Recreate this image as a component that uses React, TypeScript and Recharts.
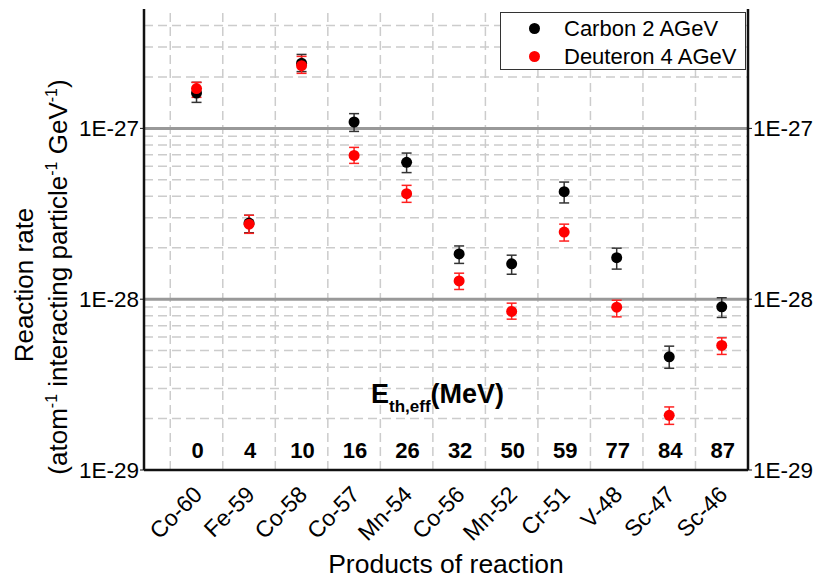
import React from "react";
import {
  ComposedChart,
  Scatter,
  XAxis,
  YAxis,
  ErrorBar,
  ReferenceLine,
  Legend,
} from "recharts";

const categories = ["Co-60", "Fe-59", "Co-58", "Co-57", "Mn-54", "Co-56", "Mn-52", "Cr-51", "V-48", "Sc-47", "Sc-46"];
const energies = [0, 4, 10, 16, 26, 32, 50, 59, 77, 84, 87];

const carbon = [1.61e-27, 2.79e-28, 2.41e-27, 1.09e-27, 6.33e-28, 1.84e-28, 1.61e-28, 4.26e-28, 1.75e-28, 4.6e-29, 9.02e-29];
const carbonLow = [1.42e-27, 2.45e-28, 2.15e-27, 9.6e-28, 5.51e-28, 1.62e-28, 1.4e-28, 3.66e-28, 1.5e-28, 3.94e-29, 7.82e-29];
const carbonHigh = [1.86e-27, 3.1e-28, 2.71e-27, 1.22e-27, 7.17e-28, 2.05e-28, 1.81e-28, 4.85e-28, 1.99e-28, 5.31e-29, 1.02e-28];

const deuteron = [1.71e-27, 2.75e-28, 2.33e-27, 6.95e-28, 4.15e-28, 1.28e-28, 8.48e-29, 2.47e-28, 8.98e-29, 2.09e-29, 5.36e-29];
const deuteronLow = [1.52e-27, 2.43e-28, 2.1e-27, 6.24e-28, 3.69e-28, 1.14e-28, 7.64e-29, 2.19e-28, 7.88e-29, 1.85e-29, 4.75e-29];
const deuteronHigh = [1.86e-27, 3.1e-28, 2.64e-27, 7.74e-28, 4.64e-28, 1.42e-28, 9.48e-29, 2.75e-28, 9.86e-29, 2.34e-29, 5.94e-29];

const decadeTicks = [1e-29, 1e-28, 1e-27];
const minorSteps = [2, 3, 4, 5, 6, 7, 8, 9];
const Y_MIN = 1e-29;
const Y_MAX = 5e-27;

const FONT = "'Liberation Sans', Arial, sans-serif";

const toRows = (vals: number[], lo: number[], hi: number[]) =>
  vals.map((v, i) => ({ x: i + 1, y: v, err: [v - lo[i], hi[i] - v] }));

const carbonRows = toRows(carbon, carbonLow, carbonHigh);
const deuteronRows = toRows(deuteron, deuteronLow, deuteronHigh);

const series = [
  { name: "Carbon 2 AGeV", color: "#000000" },
  { name: "Deuteron 4 AGeV", color: "#ff0000" },
];

const minorLines = decadeTicks
  .flatMap((d) => minorSteps.map((m) => m * d))
  .filter((v) => v < Y_MAX);
const cellEdges = categories.map((_, i) => i + 0.5);

const fmtExp = (v: number) => `1E${Math.round(Math.log10(v))}`;

function ProductTick({ x, y, payload }: any) {
  const i = payload.value - 1;
  if (i < 0 || i >= categories.length) return null;
  return (
    <g>
      <text x={x + 1} y={y - 12} textAnchor="middle" fontSize={22} fontWeight="bold" fill="#000">
        {energies[i]}
      </text>
      <text
        transform={`translate(${x + 7},${y + 26}) rotate(-45)`}
        textAnchor="end"
        fontSize={23}
        fill="#000"
      >
        {categories[i]}
      </text>
    </g>
  );
}

function YTitle() {
  return (
    <g fill="#000">
      <text transform="translate(33,285) rotate(-90)" textAnchor="middle" fontSize={26}>
        Reaction rate
      </text>
      <text transform="translate(67,277) rotate(-90)" textAnchor="middle" fontSize={26}>
        (atom
        <tspan dy={-10} fontSize={16}>-1</tspan>
        <tspan dy={10}> interacting particle</tspan>
        <tspan dy={-10} fontSize={16}>-1</tspan>
        <tspan dy={10}> GeV</tspan>
        <tspan dy={-10} fontSize={16}>-1</tspan>
        <tspan dy={10}>)</tspan>
      </text>
    </g>
  );
}

function LegendBox() {
  return (
    <div
      style={{
        position: "relative",
        width: 246,
        height: 58,
        boxSizing: "border-box",
        border: "1.5px solid #333",
        background: "#fff",
        fontFamily: FONT,
        fontSize: 22,
        color: "#000",
      }}
    >
      {series.map((s, i) => (
        <div key={s.name} style={{ position: "absolute", left: 0, top: 2 + i * 28, height: 28, width: "100%" }}>
          <span
            style={{
              position: "absolute",
              left: 28,
              top: 8,
              width: 11,
              height: 11,
              borderRadius: "50%",
              background: s.color,
            }}
          />
          <span style={{ position: "absolute", left: 63, top: 0, lineHeight: "28px", whiteSpace: "nowrap" }}>
            {s.name}
          </span>
        </div>
      ))}
    </div>
  );
}

const dot = (color: string) => (p: any) => <circle cx={p.cx} cy={p.cy} r={5.5} fill={color} />;

export default function App() {
  return (
    <div
      style={{
        position: "absolute",
        left: 0,
        top: 0,
        width: 818,
        height: 579,
        background: "#fff",
        fontFamily: FONT,
      }}
    >
      <ComposedChart width={818} height={579} margin={{ top: 9, right: 0, bottom: 0, left: 0 }}>
        <XAxis
          dataKey="x"
          type="number"
          domain={[0, 11.5]}
          ticks={categories.map((_, i) => i + 1)}
          interval={0}
          allowDataOverflow
          height={109}
          tickSize={0}
          tickMargin={0}
          tickLine={false}
          tick={<ProductTick />}
          axisLine={{ stroke: "#111", strokeWidth: 2.5 }}
          label={{ value: "Products of reaction", position: "insideBottom", offset: 6, fontSize: 26.5, fill: "#000" }}
        />
        <XAxis
          xAxisId="top"
          orientation="top"
          type="number"
          domain={[0, 11.5]}
          allowDataOverflow
          height={0}
          tick={false}
          tickLine={false}
          axisLine={{ stroke: "#111", strokeWidth: 2.5 }}
        />
        <YAxis
          dataKey="y"
          scale="log"
          domain={[Y_MIN, Y_MAX]}
          allowDataOverflow
          ticks={decadeTicks}
          interval={0}
          tickFormatter={fmtExp}
          width={144}
          tickSize={4}
          tickMargin={1}
          tick={{ fontSize: 22.5, fill: "#000" }}
          tickLine={{ stroke: "#111" }}
          axisLine={{ stroke: "#111", strokeWidth: 2.5 }}
          label={<YTitle />}
        />
        <YAxis
          yAxisId="r"
          orientation="right"
          dataKey="y"
          scale="log"
          domain={[Y_MIN, Y_MAX]}
          allowDataOverflow
          ticks={decadeTicks}
          interval={0}
          tickFormatter={fmtExp}
          width={70}
          tickSize={4}
          tickMargin={1}
          tick={{ fontSize: 22.5, fill: "#000", textAnchor: "start" }}
          tickLine={{ stroke: "#111" }}
          axisLine={{ stroke: "#111", strokeWidth: 2.5 }}
        />
        {cellEdges.map((v) => (
          <ReferenceLine key={`vx${v}`} x={v} stroke="#cccccc" strokeWidth={1.5} strokeDasharray="9 5" />
        ))}
        {minorLines.map((v) => (
          <ReferenceLine key={`hy${v}`} y={v} stroke="#cccccc" strokeWidth={1.5} strokeDasharray="9 5" />
        ))}
        {decadeTicks.slice(1).map((v) => (
          <ReferenceLine key={`dy${v}`} y={v} stroke="#999" strokeWidth={3} />
        ))}
        <Scatter name={series[0].name} data={carbonRows} fill="#000" shape={dot("#000")} isAnimationActive={false}>
          <ErrorBar dataKey="err" direction="y" width={5} stroke="#333" strokeWidth={1.5} />
        </Scatter>
        <Scatter name={series[1].name} data={deuteronRows} fill="#ff0000" shape={dot("#ff0000")} isAnimationActive={false}>
          <ErrorBar dataKey="err" direction="y" width={5} stroke="#ff2020" strokeWidth={1.5} />
        </Scatter>
        <Legend
          layout="vertical"
          align="center"
          verticalAlign="middle"
          wrapperStyle={{ left: 500, top: 12, width: 246, height: 58 }}
          content={<LegendBox />}
        />
      </ComposedChart>
      <svg
        width={818}
        height={579}
        style={{ position: "absolute", left: 0, top: 0, pointerEvents: "none" }}
      >
        <text x={371} y={403} fontSize={27} fontWeight="bold" fill="#000" fontFamily={FONT}>
          E
          <tspan dy={9} fontSize={17}>th,eff</tspan>
          <tspan dy={-9}>(MeV)</tspan>
        </text>
      </svg>
    </div>
  );
}
